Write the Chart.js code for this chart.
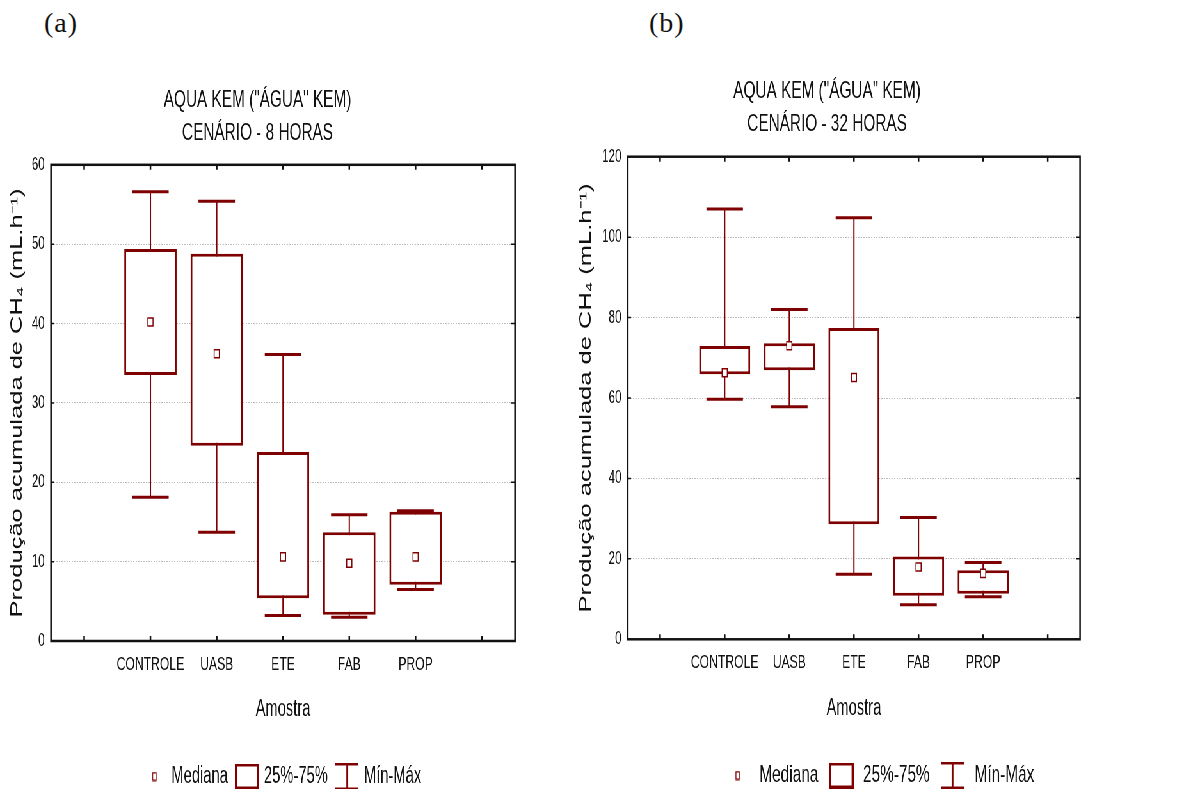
<!DOCTYPE html>
<html>
<head>
<meta charset="utf-8">
<script src="https://cdn.jsdelivr.net/npm/chart.js@4.4.1/dist/chart.umd.min.js"></script>
<style>
  html, body { margin: 0; padding: 0; background: #fff; }
  body { width: 1180px; height: 789px; position: relative; overflow: hidden; }
  .panel { position: absolute; top: 9px; line-height: 1; font-family: 'Liberation Serif', 'Times New Roman', serif; font-size: 28px; letter-spacing: 1px; color: #111; }
  /* the figure is squeezed horizontally, like the original export */
  #stage { position: absolute; left: 0; top: 0; width: 1844px; height: 789px; transform: scaleX(0.64); transform-origin: 0 0; }
  #stage canvas { position: absolute; top: 0; }
</style>
</head>
<body>
<div class="panel" style="left:44px">(a)</div>
<div class="panel" style="left:649px">(b)</div>
<div id="stage">
  <canvas id="chart8" width="812" height="789" style="left:0px"></canvas>
  <canvas id="chart32" width="794" height="789" style="left:896.9px"></canvas>
</div>
<script>
// data
var categories = ['CONTROLE', 'UASB', 'ETE', 'FAB', 'PROP'];
var xLabels = [''].concat(categories, ['']);

// cenario 8 horas
var h8Min    = [18.1, 13.7,  3.2,  3.0,  6.5];
var h8Q1     = [33.5, 24.6,  5.4,  3.3,  7.1];
var h8Median = [40.2, 36.2, 10.6,  9.8, 10.6];
var h8Q3     = [49.4, 48.8, 23.8, 13.7, 16.3];
var h8Max    = [56.6, 55.4, 36.1, 15.9, 16.4];

// cenario 32 horas
var h32Min    = [ 59.7, 57.8,  16.2,  8.6, 10.6];
var h32Q1     = [ 65.9, 66.9,  28.6, 10.8, 11.3];
var h32Median = [ 66.3, 73.0,  65.1, 18.0, 16.4];
var h32Q3     = [ 72.9, 73.6,  77.4, 20.6, 17.2];
var h32Max    = [107.0, 82.0, 104.8, 30.3, 19.1];

var RED = '#7f0000';
var INK = '#111';
var SANS = "'Liberation Sans', Arial, sans-serif";

function pad(arr) {
    return [null].concat(arr, [null]);
}

function icon(w, h, draw) {
    var c = document.createElement('canvas');
    c.width = w;
    c.height = h;
    var g = c.getContext('2d');
    g.strokeStyle = RED;
    g.fillStyle = '#fff';
    draw(g, w, h);
    return c;
}

var medianIcon = icon(8, 10, function(g) {
    g.lineWidth = 1.5;
    g.fillRect(1, 1, 6, 8);
    g.strokeRect(1.25, 1.25, 5.5, 7.5);
});
var boxIcon = icon(38, 26, function(g) {
    g.lineWidth = 3;
    g.strokeRect(1.5, 1.5, 35, 23);
});
var whiskerIcon = icon(36, 28, function(g) {
    g.lineWidth = 3;
    g.beginPath();
    g.moveTo(0, 1.5); g.lineTo(36, 1.5);
    g.moveTo(0, 26.5); g.lineTo(36, 26.5);
    g.stroke();
    g.lineWidth = 2.5;
    g.beginPath();
    g.moveTo(18, 1.5); g.lineTo(18, 26.5);
    g.stroke();
});

// frame around the plot with small inward tick marks
var framePlugin = {
    id: 'frame',
    afterDraw: function(chart) {
        var a = chart.chartArea, ctx = chart.ctx;
        var xs = chart.scales.x, ys = chart.scales.y;
        ctx.save();
        ctx.strokeStyle = INK;
        ctx.lineWidth = 2.5;
        xs.ticks.forEach(function(t, i) {
            var px = xs.getPixelForTick(i);
            ctx.beginPath();
            ctx.moveTo(px, a.bottom); ctx.lineTo(px, a.bottom - 5);
            ctx.moveTo(px, a.top); ctx.lineTo(px, a.top + 5);
            ctx.stroke();
        });
        ctx.lineWidth = 1.5;
        ys.ticks.forEach(function(t, i) {
            var py = ys.getPixelForTick(i);
            ctx.beginPath();
            ctx.moveTo(a.left, py); ctx.lineTo(a.left + 5, py);
            ctx.moveTo(a.right, py); ctx.lineTo(a.right - 6, py);
            ctx.stroke();
        });
        ctx.lineWidth = 2.5;
        ctx.strokeRect(a.left, a.top, a.right - a.left, a.bottom - a.top);
        ctx.restore();
    }
};

var legendShift = {
    id: 'legendShift',
    afterLayout: function(chart, args, opts) {
        if (opts && opts.dx && chart.legend) {
            chart.legend.left += opts.dx;
            chart.legend.right += opts.dx;
        }
    }
};

function boxChart(canvasId, s) {
    var ctx = document.getElementById(canvasId).getContext('2d');
    var whiskers = [], caps = [];
    categories.forEach(function(c, i) {
        whiskers.push({x: c, y: s.min[i]}, {x: c, y: s.max[i]}, {x: c, y: null});
        caps.push({x: c, y: s.min[i]}, {x: c, y: s.max[i]});
    });
    var boxes = categories.map(function(c, i) { return [s.q1[i], s.q3[i]]; });

    return new Chart(ctx, {
        type: 'bar',
        data: {
            labels: xLabels,
            datasets: [{
                type: 'line',
                label: 'Mín-Máx',
                data: whiskers,
                borderColor: RED,
                borderWidth: 2,
                pointRadius: 0,
                spanGaps: false,
                order: 3
            }, {
                label: '25%-75%',
                data: pad(boxes),
                backgroundColor: '#fff',
                borderColor: RED,
                borderWidth: 3,
                borderSkipped: false,
                barPercentage: 0.79,
                categoryPercentage: 1,
                order: 2
            }, {
                type: 'line',
                label: 'caps',
                data: caps,
                showLine: false,
                pointStyle: 'line',
                pointRadius: 28.5,
                pointBorderColor: RED,
                pointBorderWidth: 3,
                order: 1
            }, {
                type: 'line',
                label: 'Mediana',
                data: pad(s.median),
                showLine: false,
                pointStyle: 'rect',
                pointRadius: 5.7,
                pointBackgroundColor: '#fff',
                pointBorderColor: RED,
                pointBorderWidth: 1.5,
                order: 0
            }]
        },
        options: {
            responsive: false,
            animation: false,
            events: [],
            layout: {
                autoPadding: false,
                padding: {top: 0, left: 0, right: s.padRight, bottom: s.padBottom}
            },
            plugins: {
                title: {
                    display: true,
                    text: ['AQUA KEM ("ÁGUA" KEM)', s.scenario],
                    color: INK,
                    font: {family: SANS, size: 24, weight: 'normal', lineHeight: 1.375},
                    padding: {top: s.titleTop, bottom: s.titleBottom}
                },
                legend: {
                    position: 'bottom',
                    fullSize: false,
                    labels: {
                        usePointStyle: true,
                        pointStyleWidth: s.legendBox,
                        padding: s.legendGap,
                        color: INK,
                        font: {family: SANS, size: s.legendFont},
                        generateLabels: function() {
                            return [
                                {text: 'Mediana', pointStyle: medianIcon, fontColor: INK, fillStyle: '#fff', strokeStyle: RED, lineWidth: 0, hidden: false, datasetIndex: 3},
                                {text: '25%-75%', pointStyle: boxIcon, fontColor: INK, fillStyle: '#fff', strokeStyle: RED, lineWidth: 0, hidden: false, datasetIndex: 1},
                                {text: 'Mín-Máx', pointStyle: whiskerIcon, fontColor: INK, fillStyle: '#fff', strokeStyle: RED, lineWidth: 0, hidden: false, datasetIndex: 0}
                            ];
                        }
                    }
                },
                tooltip: {enabled: false},
                legendShift: {dx: s.legendDx}
            },
            scales: {
                x: {
                    offset: true,
                    grid: {display: false, drawTicks: false},
                    border: {display: false},
                    ticks: {
                        color: INK,
                        padding: s.xTickPad,
                        autoSkip: false,
                        minRotation: 0,
                        maxRotation: 0,
                        font: {family: SANS, size: 19}
                    },
                    title: {
                        display: true,
                        text: 'Amostra',
                        color: INK,
                        font: {family: SANS, size: 23},
                        padding: {top: s.xTitleTop, bottom: s.xTitleBottom}
                    }
                },
                y: {
                    min: 0,
                    max: s.yMax,
                    ticks: {stepSize: s.yStep, color: INK, padding: 10, font: {family: SANS, size: 18}},
                    grid: {color: '#bdbdbd', lineWidth: 1, drawTicks: false},
                    border: {display: false, dash: [2, 2]},
                    title: {
                        display: true,
                        text: 'Produção acumulada de CH₄ (mL.h⁻¹)',
                        color: INK,
                        font: {family: SANS, size: 25.5, lineHeight: 1.2},
                        padding: {top: s.yTitlePad, bottom: 0}
                    },
                    afterFit: function(scale) {
                        scale.width = s.yAxisWidth;
                    }
                }
            }
        },
        plugins: [framePlugin, legendShift]
    });
}

boxChart('chart8', {
    scenario: 'CENÁRIO - 8 HORAS',
    min: h8Min, q1: h8Q1, median: h8Median, q3: h8Q3, max: h8Max,
    yMax: 60, yStep: 10,
    titleTop: 83.8, titleBottom: 15,
    padRight: 7.3, padBottom: -9,
    yAxisWidth: 79.7, yTitlePad: 12,
    xTickPad: 12.6, xTitleTop: 6.9, xTitleBottom: 26.5,
    legendFont: 23, legendBox: 30, legendGap: 15, legendDx: 0
});

boxChart('chart32', {
    scenario: 'CENÁRIO - 32 HORAS',
    min: h32Min, q1: h32Q1, median: h32Median, q3: h32Q3, max: h32Max,
    yMax: 120, yStep: 20,
    titleTop: 74.5, titleBottom: 16.2,
    padRight: 3.4, padBottom: -8.5,
    yAxisWidth: 83.9, yTitlePad: 3.6,
    xTickPad: 11.8, xTitleTop: 9.2, xTitleBottom: 27,
    legendFont: 24, legendBox: 44, legendGap: 14, legendDx: 39
});
</script>
</body>
</html>
